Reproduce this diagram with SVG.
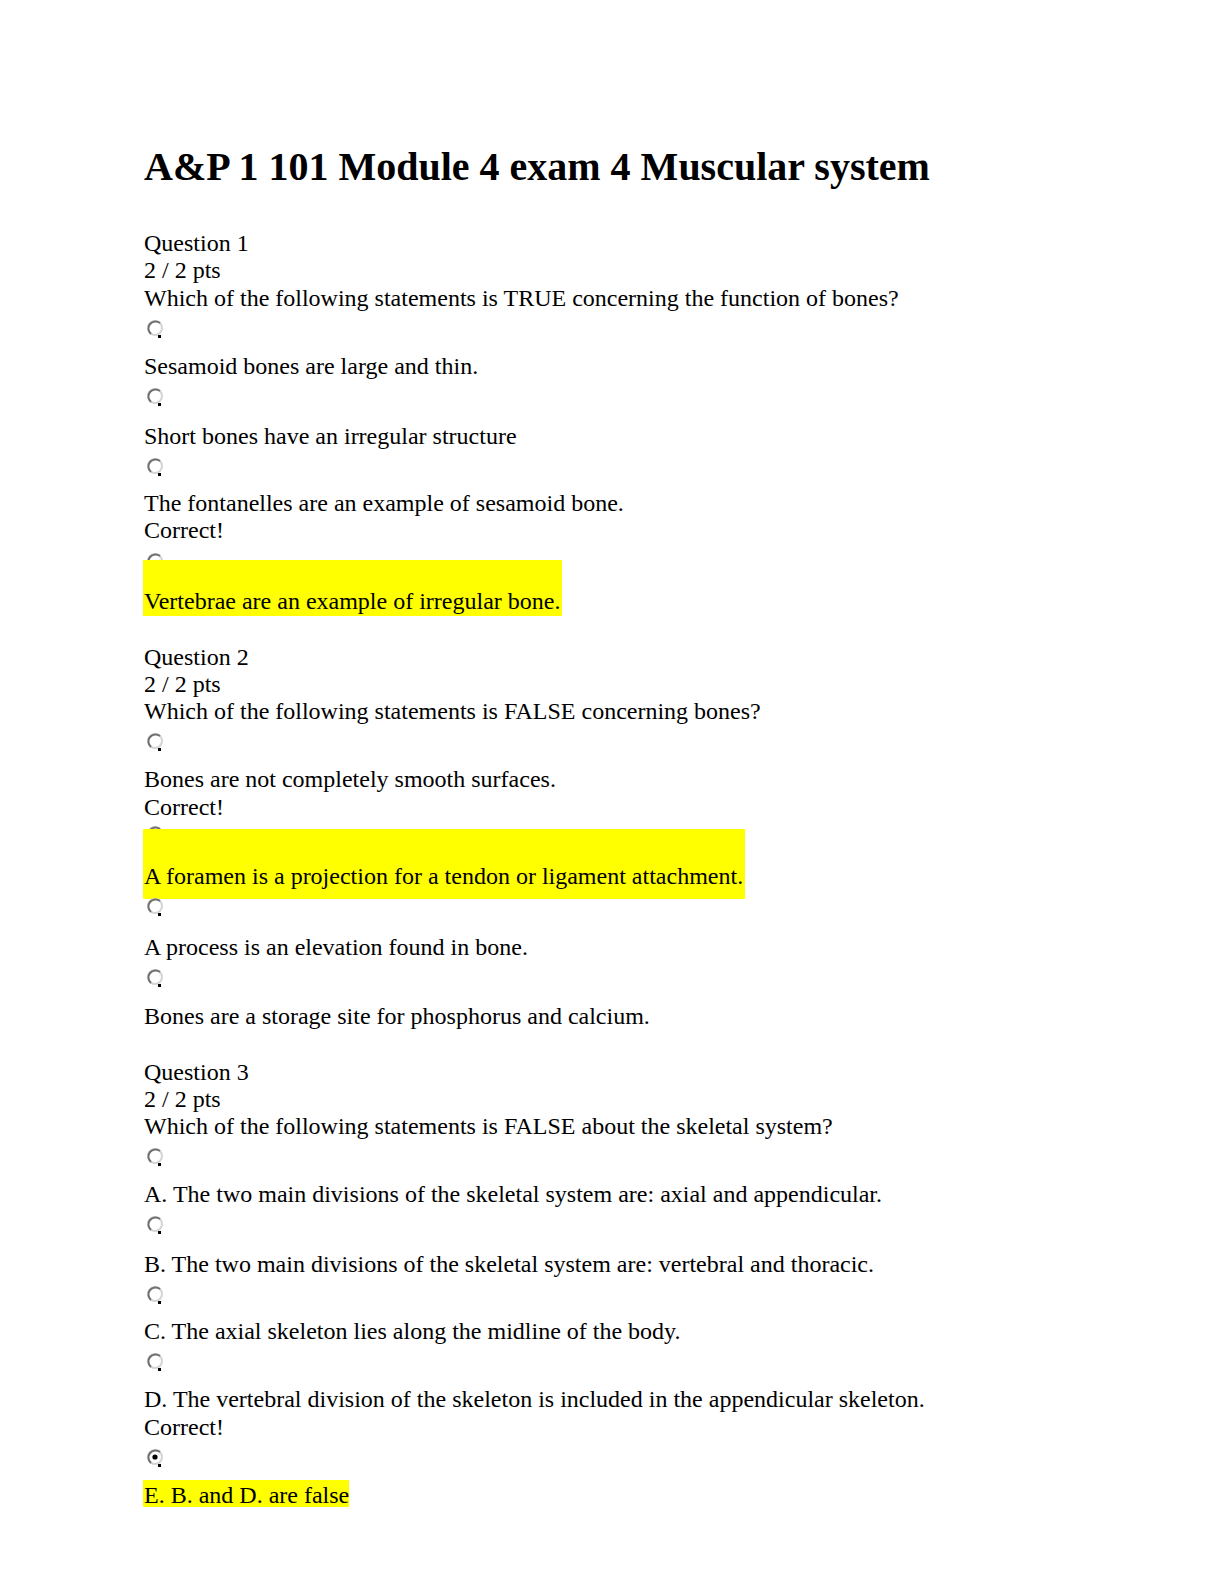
<svg xmlns="http://www.w3.org/2000/svg" width="1224" height="1584" viewBox="0 0 1224 1584">
<defs>
<style>
text{font-family:"Liberation Serif","Times New Roman",serif;font-size:24px;fill:#000}
.t{font-size:40px;font-weight:bold}
.hl{fill:#ffff00}
.rl{fill:none;stroke:#d4d4d4;stroke-width:2}
.rd{fill:none;stroke:#707070;stroke-width:2}
</style>
<g id="radio">
<circle cx="0" cy="0" r="7" class="rl"/>
<path d="M-4,6 A7,7 0 0 1 5,-5" class="rd"/>
<rect x="3" y="7" width="3" height="3" fill="#000"/>
</g>
</defs>
<rect width="1224" height="1584" fill="#fff"/>
<text class="t" x="144" y="180">A&amp;P 1 101 Module 4 exam 4 Muscular system</text>

<g id="q1">
<text x="144" y="251">Question 1</text>
<text x="144" y="278">2 / 2 pts</text>
<text x="144" y="306">Which of the following statements is TRUE concerning the function of bones?</text>
<use href="#radio" x="155" y="328"/>
<text x="144" y="374">Sesamoid bones are large and thin.</text>
<use href="#radio" x="155" y="396"/>
<text x="144" y="444">Short bones have an irregular structure</text>
<use href="#radio" x="155" y="466"/>
<text x="144" y="511">The fontanelles are an example of sesamoid bone.</text>
<text x="144" y="538">Correct!</text>
<use href="#radio" x="155" y="561"/>
<rect class="hl" x="143" y="560" width="419" height="56"/>
<text x="144" y="609">Vertebrae are an example of irregular bone.</text>
</g>

<g id="q2">
<text x="144" y="665">Question 2</text>
<text x="144" y="692">2 / 2 pts</text>
<text x="144" y="719">Which of the following statements is FALSE concerning bones?</text>
<use href="#radio" x="155" y="741"/>
<text x="144" y="787">Bones are not completely smooth surfaces.</text>
<text x="144" y="815">Correct!</text>
<use href="#radio" x="155" y="834"/>
<rect class="hl" x="143" y="829" width="602" height="70"/>
<text x="144" y="884">A foramen is a projection for a tendon or ligament attachment.</text>
<use href="#radio" x="155" y="906"/>
<text x="144" y="955">A process is an elevation found in bone.</text>
<use href="#radio" x="155" y="977"/>
<text x="144" y="1024">Bones are a storage site for phosphorus and calcium.</text>
</g>

<g id="q3">
<text x="144" y="1080">Question 3</text>
<text x="144" y="1107">2 / 2 pts</text>
<text x="144" y="1134">Which of the following statements is FALSE about the skeletal system?</text>
<use href="#radio" x="155" y="1156"/>
<text x="144" y="1202">A. The two main divisions of the skeletal system are: axial and appendicular.</text>
<use href="#radio" x="155" y="1224"/>
<text x="144" y="1272">B. The two main divisions of the skeletal system are: vertebral and thoracic.</text>
<use href="#radio" x="155" y="1294"/>
<text x="144" y="1339">C. The axial skeleton lies along the midline of the body.</text>
<use href="#radio" x="155" y="1361"/>
<text x="144" y="1407">D. The vertebral division of the skeleton is included in the appendicular skeleton.</text>
<text x="144" y="1435">Correct!</text>
<use href="#radio" x="155" y="1457"/>
<circle cx="155" cy="1457" r="2.6" fill="#000"/>
<rect class="hl" x="143" y="1480" width="206" height="27"/>
<text x="144" y="1503">E. B. and D. are false</text>
</g>
</svg>
